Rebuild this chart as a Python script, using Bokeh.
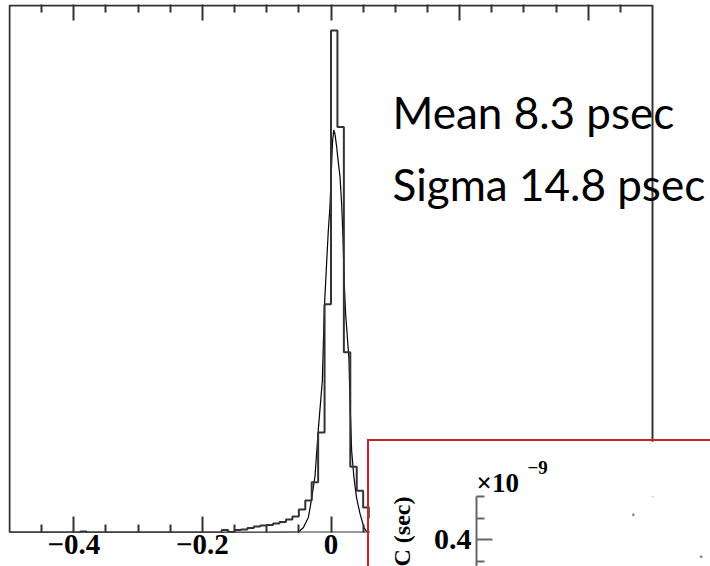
import numpy as np
from bokeh.plotting import figure
from bokeh.models import (Range1d, FixedTicker, LinearAxis, Label, BoxAnnotation,
                          CustomLabelingPolicy, Title)
from bokeh.embed import file_html
from bokeh.resources import INLINE

# ---------------- data ----------------
bin_lo = -0.5          # ns, first bin edge
bin_width = 0.01       # ns
# counts per bin, bins from -0.50 to 0.50 (100 bins), arbitrary units (peak = 1000)
counts = [
    0, 0, 0, 0, 0, 0, 0, 0, 0, 0,          # -0.50 .. -0.41
    0, 2, 0, 0, 0, 0, 0, 0, 0, 0,          # -0.40 .. -0.31
    0, 0, 0, 0, 0, 0, 0, 0, 0, 0,          # -0.30 .. -0.21
    0, 0, 0, 5, 1, 5, 6, 9, 12, 14,        # -0.20 .. -0.11
    15, 18, 21, 26, 32, 46, 64, 100, 199, 455,   # -0.10 .. -0.01
    1000, 808, 359, 131, 83, 50, 30, 20, 13, 9,  # 0.00 .. 0.09
    6, 4, 3, 2, 2, 1, 0, 0, 0, 0,          # 0.10 .. 0.19
    0, 0, 0, 0, 0, 0, 0, 0, 0, 0,          # 0.20 .. 0.29
    0, 0, 0, 0, 0, 0, 0, 0, 0, 0,          # 0.30 .. 0.39
    0, 0, 0, 0, 0, 0, 0, 0, 0, 0,          # 0.40 .. 0.49
]
# fitted curve, points
fit_x = [-0.50, -0.30, -0.10, -0.0507, -0.0429, -0.0352, -0.0299, -0.0248, -0.0197,
         -0.0135, -0.0104, -0.0067, -0.0042, -0.0016, 0.0011, 0.0023, 0.0043, 0.0062,
         0.0088, 0.0113, 0.0140, 0.0166, 0.0186, 0.0206, 0.0228, 0.0259, 0.0279,
         0.0295, 0.0321, 0.0357, 0.0398, 0.0450, 0.0512, 0.0558, 0.10, 0.50]
fit_y = [0, 0, 0, 1, 10, 30, 69, 113, 206,
         302, 445, 540, 601, 649, 738, 778, 802, 794,
         768, 738, 709, 653, 590, 496, 435, 381, 347,
         262, 163, 109, 69, 38, 10, 1, 0, 0]

major_ticks = [-0.4, -0.2, 0.0, 0.2, 0.4]
minor_ticks = [-0.45, -0.35, -0.3, -0.25, -0.15, -0.1, -0.05,
               0.05, 0.1, 0.15, 0.25, 0.3, 0.35, 0.45]
tick_labels = {-0.4: "\u22120.4", -0.2: "\u22120.2", 0.0: "0", 0.2: "0.2", 0.4: "0.4"}
stats_lines = ["Mean 8.3 psec", "Sigma 14.8 psec"]

# inset (partly visible second plot)
inset_x = [67, 96]
inset_y = [0.423, 0.384]          # in units of 1e-9 s
inset_major = [0.4]
inset_minor = [0.38, 0.42, 0.44]
inset_ylabel = "C (sec)"          # visible part of the inset's axis title
inset_exp_base = "\u00d710"
inset_exp_power = "\u22129"

# ---------------- main histogram ----------------
x_lo, x_hi, y_hi = -0.5, 0.5, 1050
edges = np.round(bin_lo + bin_width * np.arange(len(counts) + 1), 4)
step_y = list(counts) + [0]

p = figure(width=710, height=566, x_range=Range1d(-0.50156, 0.5902),
           y_range=Range1d(0, 1052),
           output_backend="svg", toolbar_location=None,
           x_axis_location=None, y_axis_location=None,
           min_border_left=8, min_border_right=0, min_border_top=2, min_border_bottom=34,
           background_fill_color="white", border_fill_color="white")
for g in p.grid:
    g.visible = False
p.outline_line_color = None

tick_color = "#333333"
xb = LinearAxis(ticker=FixedTicker(ticks=major_ticks, minor_ticks=minor_ticks),
                major_label_overrides=tick_labels,
                major_tick_in=16, major_tick_out=0, minor_tick_in=8, minor_tick_out=0,
                major_tick_line_color=tick_color, minor_tick_line_color=tick_color,
                major_tick_line_width=2, minor_tick_line_width=2,
                axis_line_color=None,
                major_label_standoff=2,
                major_label_text_font="Liberation Serif", major_label_text_font_style="bold",
                major_label_text_font_size="29px", major_label_text_color="black")
p.add_layout(xb, "below")
xt = LinearAxis(ticker=FixedTicker(ticks=major_ticks, minor_ticks=minor_ticks),
                major_tick_in=16, major_tick_out=0, minor_tick_in=8, minor_tick_out=0,
                major_tick_line_color=tick_color, minor_tick_line_color=tick_color,
                major_tick_line_width=2, minor_tick_line_width=2,
                axis_line_color=None,
                major_label_standoff=0, major_label_text_font_size="1px",
                major_label_policy=CustomLabelingPolicy(
                    code="for (const i of indices) { indices.unset(i) }\nreturn indices"))
p.add_layout(xt, "above")

# ROOT-style frame around the histogram range
p.add_layout(BoxAnnotation(left=x_lo, right=x_hi, bottom=0, top=y_hi,
                           fill_alpha=0, line_alpha=1, line_color=tick_color, line_width=2))

p.line(fit_x, fit_y, line_color="black", line_width=1.2)
p.step(edges, step_y, mode="after", line_color="#333333", line_width=2)

p.add_layout(Label(x=0.0957, y=838, text=stats_lines[0], text_font="Lato",
                   text_font_size="44px", text_color="black",
                   text_baseline="alphabetic", text_align="left"))
p.add_layout(Label(x=0.0957, y=695, text=stats_lines[1], text_font="Lato",
                   text_font_size="44px", text_color="black",
                   text_baseline="alphabetic", text_align="left"))

# ---------------- inset ----------------
t_power = Title(text=inset_exp_power, align="left", offset=51, standoff=-12,
                text_font="Liberation Serif", text_font_style="bold",
                text_font_size="19px", text_color="black")
inset = figure(width=341, height=125, x_range=Range1d(0, 100), y_range=Range1d(0.375, 0.44),
               output_backend="svg", toolbar_location=None, title=t_power,
               x_axis_location=None, y_axis_location="left",
               min_border_left=107, min_border_top=55, min_border_right=0, min_border_bottom=0,
               background_fill_color="white", border_fill_color="white",
               styles={"position": "absolute", "left": "369px", "top": "441px",
                       "outline": "2px solid #c0272d"})
inset.add_layout(Title(text=inset_exp_base, align="left", standoff=-3,
                       text_font="Liberation Serif", text_font_style="bold",
                       text_font_size="27px", text_color="black"), "above")
for g in inset.grid:
    g.visible = False
inset.outline_line_color = None

ya = inset.yaxis[0]
ya.ticker = FixedTicker(ticks=inset_major, minor_ticks=inset_minor)
ya.major_tick_in = 16
ya.major_tick_out = 0
ya.minor_tick_in = 8
ya.minor_tick_out = 0
ya.axis_line_color = "#666666"
ya.axis_line_width = 2
ya.major_tick_line_color = "#666666"
ya.minor_tick_line_color = "#666666"
ya.major_tick_line_width = 2
ya.minor_tick_line_width = 2
ya.major_label_standoff = 5
ya.major_label_text_font = "Liberation Serif"
ya.major_label_text_font_style = "bold"
ya.major_label_text_font_size = "30px"
ya.major_label_text_color = "black"
ya.axis_label = inset_ylabel
ya.axis_label_standoff = 16
ya.axis_label_text_font = "Liberation Serif"
ya.axis_label_text_font_style = "bold"
ya.axis_label_text_font_size = "24px"
ya.axis_label_text_color = "black"

inset.scatter(inset_x, inset_y, size=2, color="#888888")

open("out.html", "w").write(file_html([p, inset], INLINE))
